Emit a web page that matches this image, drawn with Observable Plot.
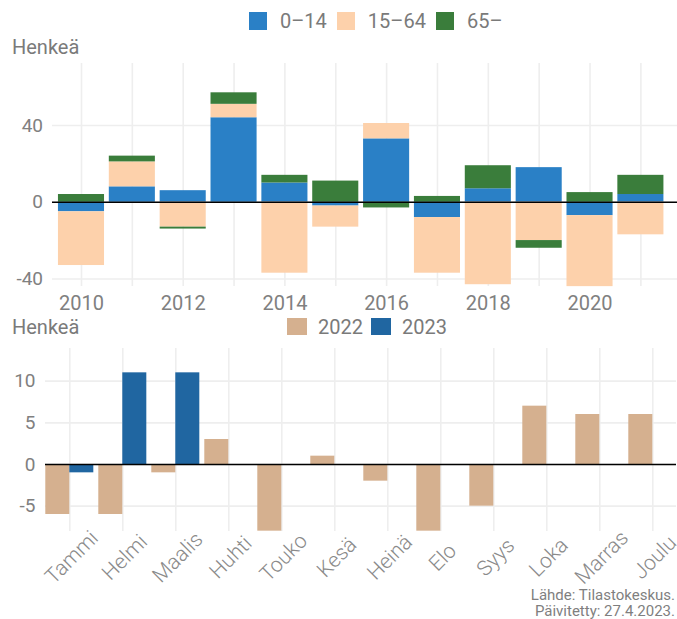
<!DOCTYPE html>
<html><head><meta charset="utf-8">
<script src="https://cdn.jsdelivr.net/npm/d3@7"></script>
<script src="https://cdn.jsdelivr.net/npm/@observablehq/plot@0.6"></script>
<style>
body{margin:0;background:#fff;font-family:Roboto,"Noto Sans",sans-serif;}
#wrap{position:relative;width:677px;height:619px;overflow:hidden;background:#fff;}
.abs{position:absolute;white-space:nowrap;}
.lbl{font-size:20px;line-height:20px;color:#7a7a7a;}
.sw{position:absolute;}
.cap{font-size:15px;line-height:16px;color:#7f7f7f;text-align:right;}
</style></head><body><div id="wrap"></div>
<script>
// ---- Top chart data (Henkeä, yearly change by age group) ----
const years = [2010, 2011, 2012, 2013, 2014, 2015, 2016, 2017, 2018, 2019, 2020, 2021];
const yearTicks = [2010, 2012, 2014, 2016, 2018, 2020];
const ageGroups = ["0–14", "15–64", "65–"];
const age0_14 = [-5, 8, 6, 44, 10, -2, 33, -8, 7, 18, -7, 4];
const age15_64 = [-28, 13, -13, 7, -37, -11, 8, -29, -43, -20, -37, -17];
const age65 = [4, 3, -1, 6, 4, 11, -3, 3, 12, -4, 5, 10];
const topYTicks = [-40, 0, 40];
const ageColors = ["#2a80c6", "#fdd1ab", "#3a7d3b"];

// ---- Bottom chart data (monthly change, 2022 vs 2023) ----
const months = ["Tammi", "Helmi", "Maalis", "Huhti", "Touko", "Kesä", "Heinä", "Elo", "Syys", "Loka", "Marras", "Joulu"];
const seriesYears = ["2022", "2023"];
const v2022 = [-6, -6, -1, 3, -8, 1, -2, -8, -5, 7, 6, 6];
const v2023 = [-1, 11, 11, null, null, null, null, null, null, null, null, null];
const botYTicks = [-5, 0, 5, 10];
const yearColors = ["#d5b08f", "#2066a1"];

const wrap = document.getElementById("wrap");
const grid = "#eeeeee";
const txt = "#808080";

// top data table
const ageSeries = [age0_14, age15_64, age65];
const topData = [];
ageGroups.forEach((g, gi) => years.forEach((y, i) => topData.push({year: y, group: g, value: ageSeries[gi][i]})));

const p1 = Plot.plot({
  width: 677, height: 320,
  marginLeft: 52, marginRight: 0, marginTop: 63, marginBottom: 34,
  style: {background: "transparent", fontFamily: "Roboto, sans-serif", overflow: "visible"},
  x: {type: "linear", domain: [2009.43, 2021.72], axis: null},
  y: {domain: [-43.93, 72.27], axis: null},
  color: {domain: ageGroups, range: ageColors},
  marks: [
    Plot.gridX(years, {stroke: grid, strokeOpacity: 1, strokeWidth: 1.6}),
    Plot.gridY(topYTicks, {stroke: grid, strokeOpacity: 1, strokeWidth: 1.6}),
    Plot.rectY(topData, {x1: d => d.year - 0.453, x2: d => d.year + 0.453, y: "value", fill: "group"}),
    Plot.ruleY([0], {stroke: "#000", strokeWidth: 1.5}),
    Plot.axisX(yearTicks, {tickSize: 0, tickPadding: 9, tickFormat: d => String(d), fontSize: 20, color: txt, label: null}),
    Plot.axisY(topYTicks, {tickSize: 0, tickPadding: 9.5, tickFormat: d => String(d), fontSize: 19, color: txt, label: null})
  ]
});
p1.style.position = "absolute"; p1.style.left = "0px"; p1.style.top = "0px";
wrap.appendChild(p1);

// bottom data table
const botData = [];
months.forEach((m, i) => {
  botData.push({m: i + 1, year: seriesYears[0], value: v2022[i]});
  if (v2023[i] != null) botData.push({m: i + 1, year: seriesYears[1], value: v2023[i]});
});
const monthIdx = months.map((d, i) => i + 1);

const p2 = Plot.plot({
  width: 677, height: 299,
  marginLeft: 45, marginRight: 1, marginTop: 28, marginBottom: 88,
  style: {background: "transparent", fontFamily: "Roboto, sans-serif", overflow: "visible"},
  x: {type: "linear", domain: [0.5415, 12.447], axis: null},
  y: {domain: [-8.04, 13.92], axis: null},
  color: {domain: seriesYears, range: yearColors},
  marks: [
    Plot.gridX(monthIdx, {stroke: grid, strokeOpacity: 1, strokeWidth: 1.6}),
    Plot.gridY(botYTicks, {stroke: grid, strokeOpacity: 1, strokeWidth: 1.6}),
    Plot.rectY(botData, {
      x1: d => d.year === seriesYears[0] ? d.m - 0.453 : d.m,
      x2: d => d.year === seriesYears[0] ? d.m : d.m + 0.453,
      y: "value", fill: "year", clip: true
    }),
    Plot.ruleY([0], {stroke: "#000", strokeWidth: 1.5}),
    Plot.axisY(botYTicks, {tickSize: 0, tickPadding: 10, tickFormat: d => String(d), fontSize: 19, color: txt, label: null}),
    Plot.text(months, {x: (d, i) => i + 1, frameAnchor: "bottom", rotate: -45, textAnchor: "middle", lineAnchor: "middle",
      dx: 2, dy: 26, fontSize: 21, fontWeight: 300, fill: "#8a8a8a"})
  ]
});
p2.style.position = "absolute"; p2.style.left = "0px"; p2.style.top = "320px";
wrap.appendChild(p2);

// helpers for HTML text
function addText(text, left, top, cls) {
  const d = document.createElement("div");
  d.className = "abs " + cls; d.textContent = text;
  d.style.left = left + "px"; d.style.top = top + "px";
  wrap.appendChild(d); return d;
}

// legends
function legendRow(labels, colors, left, top, sw, sh, gapIn, gapOut) {
  const row = document.createElement("div");
  row.className = "abs";
  row.style.left = left + "px"; row.style.top = top + "px";
  row.style.display = "flex"; row.style.alignItems = "center"; row.style.height = sh + "px";
  labels.forEach((l, i) => {
    const s = document.createElement("span");
    s.style.display = "inline-block"; s.style.width = sw + "px"; s.style.height = sh + "px"; s.style.background = colors[i];
    s.style.marginRight = gapIn + "px";
    const t = document.createElement("span");
    t.className = "lbl"; t.textContent = l; t.style.marginRight = gapOut + "px";
    row.appendChild(s); row.appendChild(t);
  });
  wrap.appendChild(row);
}
legendRow(ageGroups, ageColors, 249, 12, 18, 18, 13, 10);
legendRow(seriesYears, yearColors, 287, 318, 20, 17, 11, 8);

addText("Henkeä", 12, 36.7, "lbl");
addText("Henkeä", 12, 317.4, "lbl");

const cap = document.createElement("div");
cap.className = "abs cap";
cap.style.right = "2px"; cap.style.top = "587px";
cap.innerHTML = "Lähde: Tilastokeskus.<br>Päivitetty: 27.4.2023.";
wrap.appendChild(cap);
</script>
</body></html>
